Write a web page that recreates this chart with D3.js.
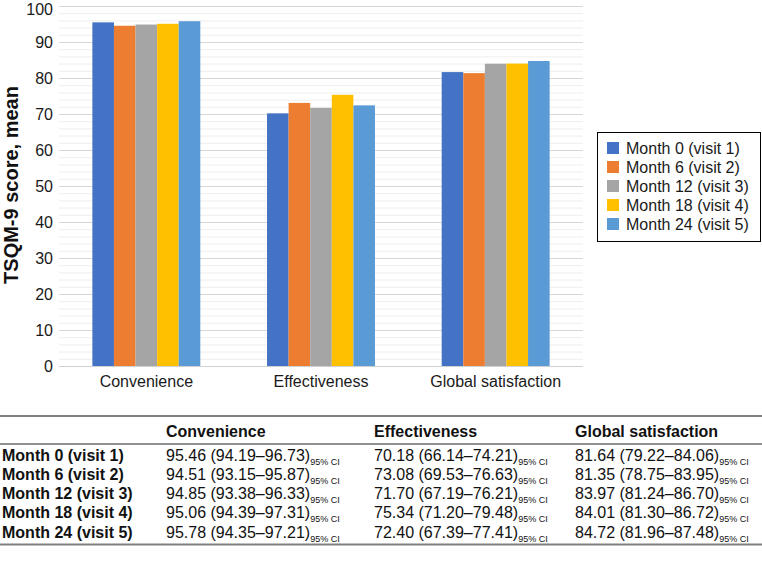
<!DOCTYPE html>
<html>
<head>
<meta charset="utf-8">
<script src="https://cdn.jsdelivr.net/npm/d3@7/dist/d3.min.js"></script>
<style>
  html, body { margin: 0; padding: 0; background: #fff; }
  svg { display: block; font-family: "Liberation Sans", Arial, sans-serif; }
</style>
</head>
<body>
<svg id="chart" width="762" height="575"></svg>
<script>
const categories = ["Convenience", "Effectiveness", "Global satisfaction"];
const series = ["Month 0 (visit 1)", "Month 6 (visit 2)", "Month 12 (visit 3)", "Month 18 (visit 4)", "Month 24 (visit 5)"];
const colors = ["#4472C4", "#ED7D31", "#A5A5A5", "#FFC000", "#5B9BD5"];
// means per series, in category order
const means = [
  [95.46, 70.18, 81.64],
  [94.51, 73.08, 81.35],
  [94.85, 71.70, 83.97],
  [95.06, 75.34, 84.01],
  [95.78, 72.40, 84.72]
];
const ciLow = [
  [94.19, 66.14, 79.22],
  [93.15, 69.53, 78.75],
  [93.38, 67.19, 81.24],
  [94.39, 71.20, 81.30],
  [94.35, 67.39, 81.96]
];
const ciHigh = [
  [96.73, 74.21, 84.06],
  [95.87, 76.63, 83.95],
  [96.33, 76.21, 86.70],
  [97.31, 79.48, 86.72],
  [97.21, 77.41, 87.48]
];
const yTicks = [0, 10, 20, 30, 40, 50, 60, 70, 80, 90, 100];
const yTitle = "TSQM-9 score, mean";

const svg = d3.select("#chart");
const plot = { left: 59, right: 583, top: 6, bottom: 366 };

const y = d3.scaleLinear().domain([0, 100]).range([plot.bottom, plot.top]);
const x0 = d3.scaleBand().domain(categories).range([plot.left, plot.right])
  .paddingInner(0.382).paddingOuter(0.191);
const x1 = d3.scaleBand().domain(series).range([0, x0.bandwidth()]).padding(0);

// minor gridlines
const minor = d3.range(0, 101, 2).filter(v => v % 10 !== 0);
svg.append("g").selectAll("line").data(minor).join("line")
  .attr("x1", plot.left).attr("x2", plot.right)
  .attr("y1", d => y(d) + 0.5).attr("y2", d => y(d) + 0.5)
  .attr("stroke", "#eeeeee").attr("stroke-width", 1);

// major gridlines + labels via axis
const yAxis = svg.append("g").attr("transform", `translate(${plot.left},0)`)
  .call(d3.axisLeft(y).tickValues(yTicks).tickSize(-(plot.right - plot.left)).tickPadding(6));
yAxis.select(".domain").remove();
yAxis.selectAll(".tick line").attr("stroke", "#d6d6d6");
yAxis.selectAll(".tick text").attr("font-size", 16).attr("fill", "#1a1a1a")
  .attr("dy", d => d === 100 ? "0.52em" : "0.37em")
  .attr("font-family", "'Liberation Sans', Arial, sans-serif");

// bars
const groups = svg.append("g").selectAll("g").data(series).join("g")
  .attr("fill", (d, i) => colors[i]);
groups.selectAll("rect").data((s, si) => categories.map((c, ci) => ({ c, s, v: means[si][ci] })))
  .join("rect")
  .attr("x", d => x0(d.c) + x1(d.s))
  .attr("width", x1.bandwidth())
  .attr("y", d => y(d.v))
  .attr("height", d => y(0) - y(d.v));

// baseline
svg.append("line").attr("x1", plot.left).attr("x2", plot.right)
  .attr("y1", y(0) + 0.5).attr("y2", y(0) + 0.5).attr("stroke", "#d0d0d0");

// x labels
const xAxis = svg.append("g").attr("transform", `translate(0,${plot.bottom})`)
  .call(d3.axisBottom(x0).tickSize(0).tickPadding(10));
xAxis.select(".domain").remove();
xAxis.selectAll(".tick text").attr("font-size", 16).attr("fill", "#1a1a1a")
  .attr("font-family", "'Liberation Sans', Arial, sans-serif");

// y title
svg.append("text")
  .attr("transform", `translate(18,185) rotate(-90)`)
  .attr("text-anchor", "middle")
  .attr("font-size", 20).attr("font-weight", "bold").attr("fill", "#111")
  .text(yTitle);

// legend
const lg = svg.append("g");
lg.append("rect").attr("x", 597.5).attr("y", 132.5).attr("width", 163).attr("height", 109)
  .attr("fill", "#fff").attr("stroke", "#000").attr("stroke-width", 1);
const li = lg.selectAll("g.item").data(series).join("g").attr("class", "item")
  .attr("transform", (d, i) => `translate(607,${148 + i * 19})`);
li.append("rect").attr("x", 0).attr("y", -6).attr("width", 12).attr("height", 12)
  .attr("fill", (d, i) => colors[i]);
li.append("text").attr("x", 19).attr("y", 5.5).attr("font-size", 16).attr("fill", "#1a1a1a")
  .text(d => d);

// table
const tbl = svg.append("g");
tbl.append("line").attr("x1", 0).attr("x2", 762).attr("y1", 416).attr("y2", 416)
  .attr("stroke", "#808080").attr("stroke-width", 2);
tbl.append("line").attr("x1", 0).attr("x2", 762).attr("y1", 444).attr("y2", 444)
  .attr("stroke", "#222").attr("stroke-width", 1);
tbl.append("line").attr("x1", 0).attr("x2", 762).attr("y1", 544.5).attr("y2", 544.5)
  .attr("stroke", "#808080").attr("stroke-width", 2);
const colX = [166, 374, 575];
tbl.selectAll("text.hdr").data(categories).join("text").attr("class", "hdr")
  .attr("x", (d, i) => colX[i]).attr("y", 436.5)
  .attr("font-size", 16).attr("font-weight", "bold").attr("fill", "#111")
  .text(d => d);
const rowY = i => 460.5 + i * 19.3;
tbl.selectAll("text.rl").data(series).join("text").attr("class", "rl")
  .attr("x", 2).attr("y", (d, i) => rowY(i))
  .attr("font-size", 16).attr("font-weight", "bold").attr("fill", "#111")
  .text(d => d);
series.forEach((s, si) => {
  categories.forEach((c, ci) => {
    const t = tbl.append("text").attr("x", colX[ci]).attr("y", rowY(si))
      .attr("font-size", 16).attr("fill", "#111");
    t.append("tspan").text(`${means[si][ci].toFixed(2)} (${ciLow[si][ci].toFixed(2)}\u2013${ciHigh[si][ci].toFixed(2)})`);
    t.append("tspan").attr("font-size", 9).attr("dy", 4).text("95% CI");
  });
});
</script>
</body>
</html>
